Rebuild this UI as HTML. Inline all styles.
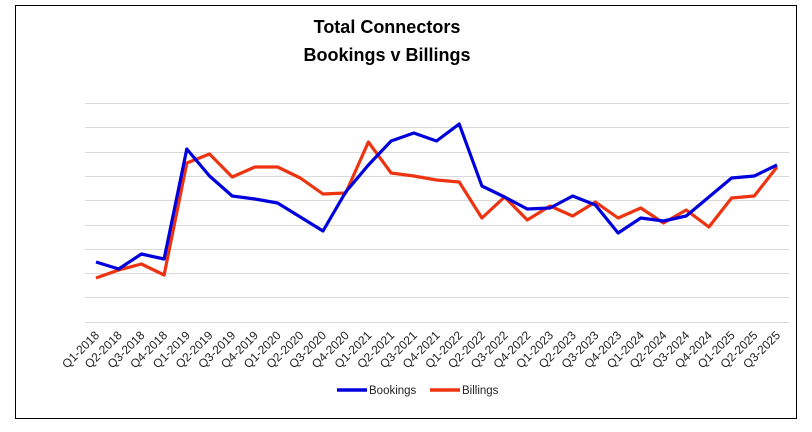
<!DOCTYPE html>
<html><head><meta charset="utf-8"><style>
html,body{margin:0;padding:0;background:#fff;}
svg{display:block;font-family:"Liberation Sans",Calibri,sans-serif;}
</style></head><body>
<svg width="812" height="432" viewBox="0 0 812 432" xmlns="http://www.w3.org/2000/svg">
<rect x="0" y="0" width="812" height="432" fill="#fff"/>
<rect x="15.5" y="5.5" width="781" height="413" fill="#fff" stroke="#000" stroke-width="1"/>
<text x="387" y="33" text-anchor="middle" font-size="18" font-weight="bold" fill="#000">Total Connectors</text>
<text x="387" y="61" text-anchor="middle" font-size="18" font-weight="bold" fill="#000">Bookings v Billings</text>
<g stroke="#d9d9d9" stroke-width="1">
<line x1="85" x2="789" y1="103.5" y2="103.5"/>
<line x1="85" x2="789" y1="127.5" y2="127.5"/>
<line x1="85" x2="789" y1="152.5" y2="152.5"/>
<line x1="85" x2="789" y1="176.5" y2="176.5"/>
<line x1="85" x2="789" y1="200.5" y2="200.5"/>
<line x1="85" x2="789" y1="225.5" y2="225.5"/>
<line x1="85" x2="789" y1="249.5" y2="249.5"/>
<line x1="85" x2="789" y1="273.5" y2="273.5"/>
<line x1="85" x2="789" y1="297.5" y2="297.5"/>
<line x1="85" x2="789" y1="322.5" y2="322.5"/>
</g>
<g id="lines" fill="none" stroke-width="3.2" stroke-linejoin="round"></g>
<g id="labels" font-size="12" fill="#222"></g>
<line x1="337" y1="390" x2="367" y2="390" stroke="#0000dd" stroke-width="3.5"/>
<text x="369" y="394" font-size="11.5" fill="#222">Bookings</text>
<line x1="430" y1="390" x2="460" y2="390" stroke="#ee3311" stroke-width="3.5"/>
<text x="462" y="394" font-size="11.5" fill="#222">Billings</text>
</svg>
<script>
var bk=[262,269,254,259,149,176,196,199,203,217,231,192,165,141,133,141,124,186,197,209,208,196,205,233,218,221,216,197,178,176,165];
var bl=[278,270,264,275,163,154,177,167,167,178,194,193,142,173,176,180,182,218,197,220,206,216,202,218,208,223,210,227,198,196,167];
var x0=96,dx=(777-96)/30,ns="http://www.w3.org/2000/svg";
function pts(a){return a.map(function(v,i){return (x0+i*dx).toFixed(1)+","+v;}).join(" ");}
var g=document.getElementById("lines");
[[bl,"#ee3311"],[bk,"#0000dd"]].forEach(function(s){var p=document.createElementNS(ns,"polyline");p.setAttribute("points",pts(s[0]));p.setAttribute("stroke",s[1]);g.appendChild(p);});
var lab=document.getElementById("labels"),i=0;
for(var y=2018;y<=2025;y++)for(var q=1;q<=4;q++){if(i>30)break;var t=document.createElementNS(ns,"text");var x=x0+i*dx+4;t.setAttribute("x",x);t.setAttribute("y",336);t.setAttribute("text-anchor","end");t.setAttribute("transform","rotate(-45 "+x+" 336)");t.textContent="Q"+q+"-"+y;lab.appendChild(t);i++;}
</script>
</body></html>
